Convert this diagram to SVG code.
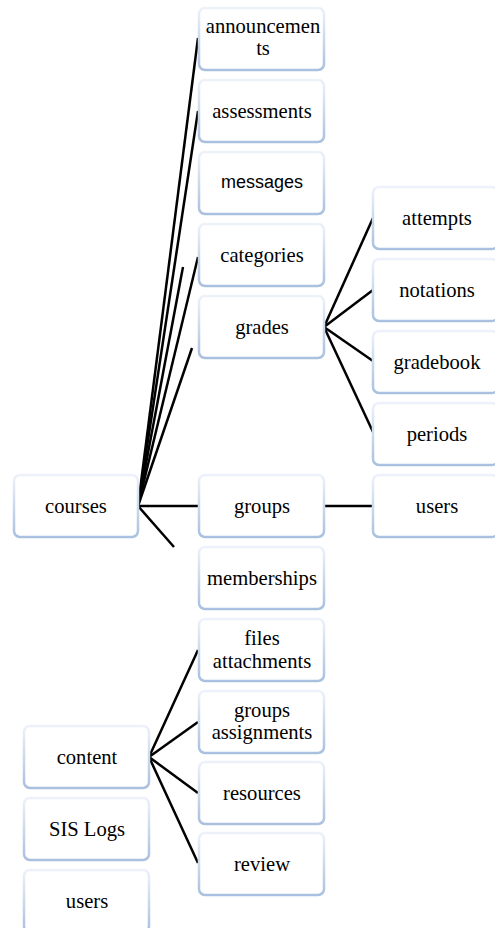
<svg xmlns="http://www.w3.org/2000/svg" width="495" height="928" viewBox="0 0 495 928">
<defs>
<linearGradient id="bd" x1="0" y1="0" x2="0" y2="1">
<stop offset="0" stop-color="#edf2fa"/>
<stop offset="1" stop-color="#a9c0df"/>
</linearGradient>
<style>
.box{fill:#ffffff;stroke:url(#bd);stroke-width:2.5}
.t{font-family:'Liberation Serif','Times New Roman',serif;font-size:20.6px;fill:#000;text-anchor:middle}
.s{font-family:'Liberation Sans',Arial,sans-serif;font-size:18px;fill:#000;text-anchor:middle}
.c{stroke:#000;stroke-width:2.5;fill:none}
</style>
</defs>
<g id="connectors" class="c">
<line x1="138" y1="506" x2="198" y2="38"/>
<line x1="138" y1="506" x2="198" y2="111"/>
<line x1="138" y1="506" x2="183" y2="267"/>
<line x1="138" y1="506" x2="198" y2="257"/>
<line x1="138" y1="506" x2="192" y2="348"/>
<line x1="138" y1="506" x2="199" y2="506"/>
<line x1="138" y1="506" x2="174" y2="547"/>
<line x1="324" y1="506" x2="373" y2="506"/>
<line x1="324" y1="327" x2="373" y2="218"/>
<line x1="324" y1="327" x2="373" y2="290"/>
<line x1="324" y1="327" x2="373" y2="361"/>
<line x1="324" y1="327" x2="373" y2="432"/>
<line x1="149" y1="757" x2="198" y2="650"/>
<line x1="149" y1="757" x2="198" y2="722"/>
<line x1="149" y1="757" x2="198" y2="793"/>
<line x1="149" y1="757" x2="198" y2="863"/>
</g>
<g id="announcements"><rect class="box" x="199" y="8" width="125" height="62" rx="6"/><text class="t" x="263" y="33">announcemen</text><text class="t" x="263" y="55">ts</text></g>
<g id="assessments"><rect class="box" x="199" y="80" width="125" height="62" rx="6"/><text class="t" x="262" y="118">assessments</text></g>
<g id="messages"><rect class="box" x="199" y="152" width="125" height="62" rx="6"/><text class="s" x="262" y="188">messages</text></g>
<g id="categories"><rect class="box" x="199" y="224" width="125" height="62" rx="6"/><text class="t" x="262" y="262">categories</text></g>
<g id="grades"><rect class="box" x="199" y="296" width="125" height="62" rx="6"/><text class="t" x="262" y="334">grades</text></g>
<g id="groups"><rect class="box" x="199" y="475" width="125" height="62" rx="6"/><text class="t" x="262" y="513">groups</text></g>
<g id="memberships"><rect class="box" x="199" y="547" width="125" height="62" rx="6"/><text class="t" x="262" y="585">memberships</text></g>
<g id="files-attachments"><rect class="box" x="199" y="619" width="125" height="62" rx="6"/><text class="t" x="262" y="645">files</text><text class="t" x="262" y="668">attachments</text></g>
<g id="groups-assignments"><rect class="box" x="199" y="691" width="125" height="62" rx="6"/><text class="t" x="262" y="717">groups</text><text class="t" x="262" y="739">assignments</text></g>
<g id="resources"><rect class="box" x="199" y="762" width="125" height="62" rx="6"/><text class="t" x="262" y="800">resources</text></g>
<g id="review"><rect class="box" x="199" y="833" width="125" height="62" rx="6"/><text class="t" x="262" y="871">review</text></g>
<g id="attempts"><rect class="box" x="373" y="187" width="125" height="62" rx="6"/><text class="t" x="437" y="225">attempts</text></g>
<g id="notations"><rect class="box" x="373" y="259" width="125" height="62" rx="6"/><text class="t" x="437" y="297">notations</text></g>
<g id="gradebook"><rect class="box" x="373" y="331" width="125" height="62" rx="6"/><text class="t" x="437" y="369">gradebook</text></g>
<g id="periods"><rect class="box" x="373" y="403" width="125" height="62" rx="6"/><text class="t" x="437" y="441">periods</text></g>
<g id="group-users"><rect class="box" x="373" y="475" width="125" height="62" rx="6"/><text class="t" x="437" y="513">users</text></g>
<g id="courses"><rect class="box" x="14" y="475" width="124" height="62" rx="6"/><text class="t" x="76" y="513">courses</text></g>
<g id="content"><rect class="box" x="24" y="726" width="125" height="62" rx="6"/><text class="t" x="87" y="764">content</text></g>
<g id="sis-logs"><rect class="box" x="24" y="798" width="125" height="62" rx="6"/><text class="t" x="87" y="836">SIS Logs</text></g>
<g id="users"><rect class="box" x="24" y="870" width="125" height="62" rx="6"/><text class="t" x="87" y="908">users</text></g>
</svg>
